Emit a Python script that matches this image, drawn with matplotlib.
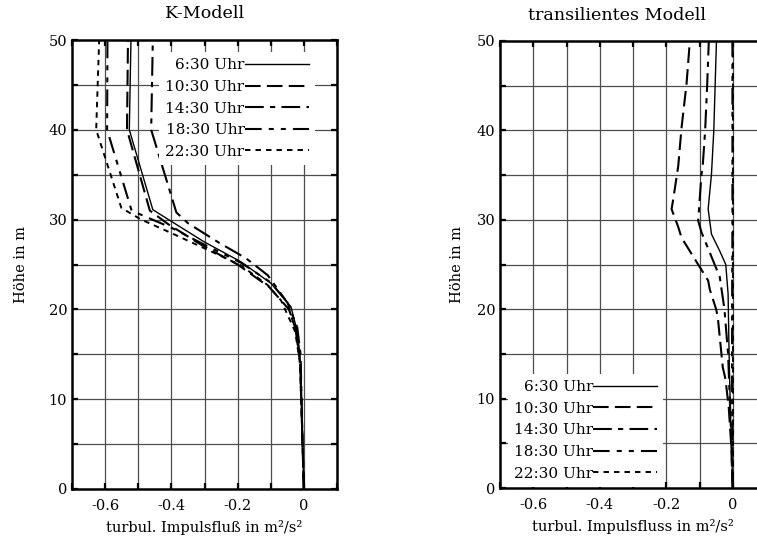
import numpy as np
import matplotlib
matplotlib.use('Agg')
import matplotlib.pyplot as plt

plt.rcParams['figure.dpi'] = 100
plt.rcParams['font.family'] = 'DejaVu Serif'
plt.rcParams['font.size'] = 10.5
plt.rcParams['axes.unicode_minus'] = False

labels = ['6:30 Uhr', '10:30 Uhr', '14:30 Uhr', '18:30 Uhr', '22:30 Uhr']

# K-Modell: Hoehe [m] und turbulenter Impulsfluss [m2/s2]
k_h_0630 = [0, 5, 10, 13.6, 17.4, 20.3, 22.9, 25.3, 27.5, 29.8, 31.1, 40, 50]
k_v_0630 = [0, -0.004, -0.007, -0.009, -0.019, -0.039, -0.099, -0.19, -0.30, -0.40, -0.456, -0.527, -0.522]
k_h_1030 = [0, 5, 10, 14, 17.5, 20, 22.5, 25, 27.2, 29.5, 31, 40, 50]
k_v_1030 = [0, -0.004, -0.008, -0.011, -0.022, -0.045, -0.105, -0.20, -0.31, -0.41, -0.465, -0.534, -0.531]
k_h_1430 = [0, 5, 10, 15, 18, 20.7, 23.8, 25.7, 27.4, 29.6, 30.8, 40, 50]
k_v_1430 = [0, -0.004, -0.007, -0.010, -0.020, -0.049, -0.109, -0.175, -0.255, -0.35, -0.385, -0.461, -0.456]
k_h_1830 = [0, 5, 10, 14, 17.5, 20.8, 23, 25.2, 27.2, 29.1, 30.2, 31, 40, 50]
k_v_1830 = [0, -0.004, -0.008, -0.011, -0.024, -0.05, -0.10, -0.19, -0.30, -0.40, -0.47, -0.52, -0.594, -0.593]
k_h_2230 = [0, 5, 10, 14, 17.5, 21.0, 22.7, 24.9, 26.8, 28.5, 30, 31.3, 40, 50]
k_v_2230 = [0, -0.004, -0.008, -0.012, -0.026, -0.069, -0.109, -0.19, -0.30, -0.40, -0.491, -0.551, -0.627, -0.618]

# transilientes Modell
t_h_0630 = [0, 5, 10, 15, 21.7, 25.0, 26.5, 28.4, 31.2, 35.1, 40, 45, 50]
t_v_0630 = [0, -0.004, -0.008, -0.011, -0.014, -0.021, -0.039, -0.064, -0.074, -0.064, -0.057, -0.053, -0.049]
t_h_1030 = [0, 5, 9, 12.2, 13.5, 19.1, 20, 22.2, 23.2, 28, 29.2, 31.2, 32.3, 36, 40.3, 45.2, 50]
t_v_1030 = [0, -0.005, -0.012, -0.022, -0.03, -0.045, -0.05, -0.069, -0.074, -0.154, -0.164, -0.184, -0.179, -0.164, -0.154, -0.139, -0.129]
t_h_1430 = [0, 5, 10, 15, 20, 23.6, 28.6, 29.9, 35.1, 36.2, 40, 45, 50]
t_v_1430 = [0, -0.004, -0.009, -0.014, -0.025, -0.039, -0.094, -0.104, -0.094, -0.09, -0.083, -0.077, -0.072]
t_h_1830 = [0, 10, 20, 30, 40, 50]
t_v_1830 = [0, -0.002, -0.002, -0.001, -0.001, -0.001]
t_h_2230 = [0, 10, 20, 30, 40, 50]
t_v_2230 = [0, 0, 0, 0, 0, 0]

styles = [
    dict(linestyle='-', lw=1.0),
    dict(linestyle=(0, (7.5, 3)), lw=1.5),
    dict(linestyle=(0, (9, 3, 2.5, 3)), lw=1.5),
    dict(linestyle=(0, (8, 3.4, 2.4, 3.4, 2.4, 3.4)), lw=1.5),
    dict(linestyle=(0, (2.8, 2.6)), lw=1.4),
]


def setup_axes(ax):
    ax.set_xlim(-0.7, 0.1)
    ax.set_ylim(0, 50)
    xt = np.round(np.arange(-0.7, 0.101, 0.1), 1)
    ax.set_xticks(xt)
    ax.set_xticklabels(['' if v not in (-0.6, -0.4, -0.2, 0.0) else ('0' if v == 0 else '%.1f' % v) for v in xt])
    ax.set_yticks(np.arange(0, 51, 10))
    ax.set_yticks(np.arange(5, 50, 10), minor=True)
    # grid drawn by hand so the legend box can sit between grid and ticks
    for x in xt[1:-1]:
        ax.axvline(x, color='0.3', lw=0.9, zorder=1)
    for y in np.arange(5, 50, 5):
        ax.axhline(y, color='0.3', lw=0.9, zorder=1)
    ax.tick_params(which='both', direction='in', top=True, right=True, length=4, width=1.6)
    ax.tick_params(axis='x', pad=7)
    for sp in ax.spines.values():
        sp.set_linewidth(1.8)


def add_legend(ax, **kw):
    leg = ax.legend(markerfirst=False, handlelength=4.2, handletextpad=0.0, labelspacing=0.5,
                    fancybox=False, edgecolor='none', facecolor='white', framealpha=1,
                    borderpad=0.4, fontsize=11, **kw)
    leg.set_zorder(2.4)
    return leg


fig = plt.figure(figsize=(7.57, 5.39))

ax1 = fig.add_axes([72 / 757, 50 / 539, 265 / 757, 449 / 539])
setup_axes(ax1)
k_data = [(k_v_0630, k_h_0630), (k_v_1030, k_h_1030), (k_v_1430, k_h_1430),
          (k_v_1830, k_h_1830), (k_v_2230, k_h_2230)]
for (v, h), st, lab in zip(k_data, styles, labels):
    ax1.plot(v, h, color='k', label=lab, **st)
ax1.set_title('K-Modell', pad=16)
ax1.set_xlabel('turbul. Impulsfluß in m²/s²', labelpad=5)
ax1.set_ylabel('Höhe in m', labelpad=15)
add_legend(ax1, loc='upper right', bbox_to_anchor=(0.945, 0.99))

ax2 = fig.add_axes([500 / 757, 51 / 539, 266 / 757, 447 / 539])
setup_axes(ax2)
t_data = [(t_v_0630, t_h_0630), (t_v_1030, t_h_1030), (t_v_1430, t_h_1430),
          (t_v_1830, t_h_1830), (t_v_2230, t_h_2230)]
for (v, h), st, lab in zip(t_data, styles, labels):
    ax2.plot(v, h, color='k', label=lab, **st)
ax2.set_title('transilientes Modell', pad=15, x=0.44)
ax2.set_xlabel('turbul. Impulsfluss in m²/s²', labelpad=5)
ax2.set_ylabel('Höhe in m', labelpad=9)
add_legend(ax2, loc='lower left', bbox_to_anchor=(0.0, -0.014))

fig.savefig('out.png', dpi=100)
